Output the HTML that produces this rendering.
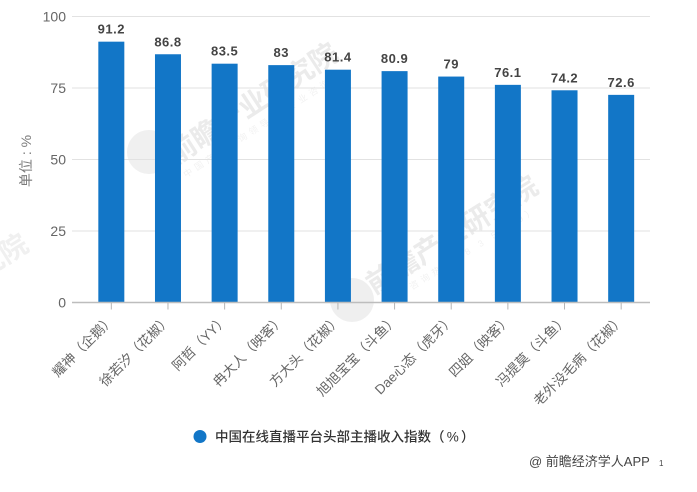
<!DOCTYPE html>
<html lang="zh">
<head>
<meta charset="utf-8">
<title>中国在线直播平台头部主播收入指数</title>
<style>
html,body{margin:0;padding:0;background:#fff;}
svg{display:block;font-family:"Liberation Sans","Noto Sans CJK SC",sans-serif;}
</style>
</head>
<body>
<svg id="chart" width="697" height="492" viewBox="0 0 697 492" xmlns="http://www.w3.org/2000/svg">
  <rect width="697" height="492" fill="#ffffff"/>
  <g id="watermarks" fill="#ebebeb" font-family="'Liberation Sans','Noto Sans CJK SC',sans-serif">
    <circle cx="149" cy="152" r="22" fill="#f0f0f0"/>
    <text transform="translate(176,165) rotate(-33)" font-size="28" font-weight="700">前瞻产业研究院</text>
    <text transform="translate(186,178) rotate(-33)" font-size="9" letter-spacing="4" fill="#f2f2f2">中国产业咨询领导者 专业咨询</text>
    <circle cx="352" cy="300" r="22" fill="#efefef"/>
    <text transform="translate(374,295) rotate(-32)" font-size="28" font-weight="700">前瞻产业研究院</text>
    <text transform="translate(412,290) rotate(-32)" font-size="9" letter-spacing="4" fill="#f2f2f2">咨询热线（8 3 5 9 9）</text>
    <text transform="translate(-17,279) rotate(-32)" font-size="28" font-weight="700" fill="#f0f0f0">究院</text>
  </g>
  <g id="grid"></g>
  <g id="bars"></g>
  <g id="axis"></g>
  <text transform="translate(31,161) rotate(-90)" text-anchor="middle" font-size="14" fill="#7a7a7a">单位 : %</text>
  <circle cx="200" cy="436.5" r="6.5" fill="#1276c7"/>
  <text x="215" y="441.5" font-size="13.5" font-weight="500" word-spacing="-1.5" fill="#333333">中国在线直播平台头部主播收入指数（ % ）</text>
  <text x="529" y="466" font-size="13" fill="#444444">@ 前瞻经济学人APP</text>
  <text x="659" y="466" font-size="8" fill="#444444">1</text>
</svg>
<script>
const categories = ["耀神（企鹅）","徐若汐（花椒）","阿哲（YY）","冉大人（映客）","方大头（花椒）","旭旭宝宝（斗鱼）","Dae心态（虎牙）","四姐（映客）","冯提莫（斗鱼）","老外没毛病（花椒）"];
const seriesValues = [91.2,86.8,83.5,83,81.4,80.9,79,76.1,74.2,72.6];
const valueLabels = ["91.2","86.8","83.5","83","81.4","80.9","79","76.1","74.2","72.6"];
const yTicks = [0,25,50,75,100];

const NS = "http://www.w3.org/2000/svg";
const plotLeft = 83, plotRight = 649.5, axisLeft = 72, axisRight = 650;
const y0 = 302.5, yScale = 2.86, barWidth = 26;
const xCenter = i => plotLeft + (plotRight - plotLeft) * (i + 0.5) / categories.length;
const yPos = v => y0 - v * yScale;
function mk(tag, attrs, parent, txt) {
  const el = document.createElementNS(NS, tag);
  for (const k in attrs) el.setAttribute(k, attrs[k]);
  if (txt !== undefined) el.textContent = txt;
  parent.appendChild(el);
  return el;
}
const gridG = document.getElementById("grid");
const barsG = document.getElementById("bars");
const axisG = document.getElementById("axis");

yTicks.forEach(t => {
  const y = yPos(t);
  const line = mk("line", {x1: axisLeft, x2: axisRight, y1: y, y2: y, stroke: t === 0 ? "#bdbdbd" : "#e2e2e2", "stroke-width": t === 0 ? 1.5 : 1}, t === 0 ? axisG : gridG);
  
  
  const lab = mk("text", {x: 66, y: y + 5, "text-anchor": "end", "font-size": 14, fill: "#666666"}, axisG, String(t));
  
  
});

categories.forEach((c, i) => {
  const cx = xCenter(i), top = yPos(seriesValues[i]);
  const bar = mk("rect", {x: cx - barWidth / 2, y: top, width: barWidth, height: y0 - top, fill: "#1276c7"}, barsG);
  
  
  const val = mk("text", {x: cx, y: top - 8, "text-anchor": "middle", "font-size": 13, "font-weight": 700, "letter-spacing": "0.5", fill: "#444444"}, barsG, valueLabels[i]);
  
  
  const tick = mk("line", {x1: cx, x2: cx, y1: y0, y2: y0 + 7, stroke: "#b5b5b5", "stroke-width": 1}, axisG);
  
  
  const lab = mk("text", {transform: "translate(" + (cx + 4) + "," + (y0 + 18) + ") rotate(-45)", "text-anchor": "end", "font-size": 13.5, fill: "#666666"}, axisG, c);
  
  
});
</script>
</body>
</html>
